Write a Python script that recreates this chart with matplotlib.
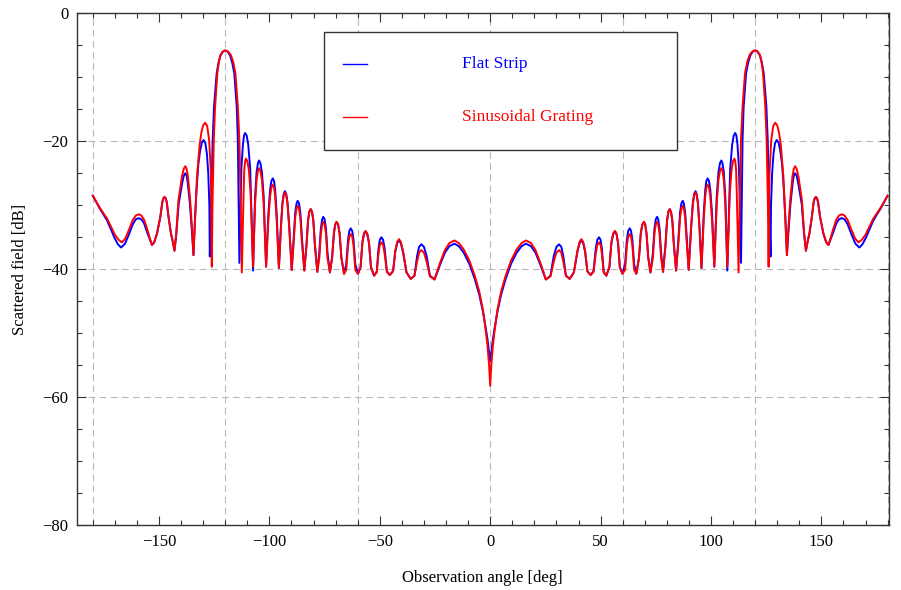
import numpy as np
import matplotlib.pyplot as plt
from matplotlib.patches import Rectangle
from matplotlib.ticker import MultipleLocator

plt.rcParams['font.family'] = ['Liberation Serif', 'DejaVu Serif']

# Right half of the pattern (0..180 deg); the pattern is symmetric
# Central lobe (shared angles)
center_deg = [0, 0.5, 1.2, 2.0, 3.3, 5.0, 7.1, 9.5, 12.0, 14.2, 16.2, 18.5, 20.5, 22.5, 24.0]
center_blue = [-54.4, -53.0, -51.0, -49.2, -46.6, -43.9, -41.4, -39.1, -37.4, -36.4, -36.0, -36.4, -37.4, -39.1, -40.5]
center_red = [-58.2, -55.0, -52.0, -49.6, -46.3, -43.4, -40.9, -38.6, -36.9, -35.9, -35.5, -35.9, -37.0, -38.8, -40.3]

# Side lobes 25..107 deg (shared angles), one row per lobe: null + 7 points
side_deg = [25.2, 27.3, 28.8, 30.0, 31.2, 32.2, 33.1, 34.3,
            36.0, 37.9, 39.5, 40.5, 41.3, 42.1, 43.0, 44.0,
            45.5, 46.8, 47.8, 48.5, 49.3, 50.0, 50.6, 51.4,
            52.6, 54.0, 54.9, 55.7, 56.5, 57.2, 57.9, 58.7,
            59.9, 61.1, 61.9, 62.5, 63.2, 63.8, 64.4, 65.2,
            66.2, 67.4, 68.2, 68.9, 69.6, 70.2, 70.8, 71.6,
            72.6, 73.7, 74.4, 75.0, 75.6, 76.1, 76.7, 77.4,
            78.3, 79.4, 80.1, 80.7, 81.3, 81.9, 82.5, 83.2,
            84.2, 85.3, 86.0, 86.6, 87.2, 87.7, 88.3, 89.0,
            89.9, 91.0, 91.8, 92.4, 93.0, 93.5, 94.1, 94.8,
            95.7, 96.7, 97.4, 97.9, 98.5, 99.1, 99.7, 100.5,
            101.5, 102.6, 103.4, 104.1, 104.7, 105.2, 105.8, 106.5,
            107.4]
side_blue = [-41.6, -41.0, -37.9, -36.5, -36.1, -36.5, -37.9, -41.0,
             -41.5, -40.5, -37.3, -35.9, -35.5, -35.9, -37.3, -40.3,
             -40.9, -40.3, -36.8, -35.4, -35.0, -35.4, -36.8, -40.4,
             -41.0, -39.7, -35.9, -34.5, -34.1, -34.5, -35.9, -39.7,
             -40.7, -39.2, -35.4, -34.0, -33.6, -34.0, -35.4, -39.2,
             -40.7, -38.2, -34.4, -33.0, -32.6, -33.0, -34.4, -38.2,
             -40.5, -37.4, -33.6, -32.2, -31.8, -32.2, -33.6, -37.4,
             -40.4, -36.2, -32.4, -31.0, -30.6, -31.0, -32.4, -36.2,
             -40.2, -34.9, -31.1, -29.7, -29.3, -29.7, -31.1, -34.9,
             -40.1, -33.4, -29.6, -28.2, -27.8, -28.2, -29.6, -33.4,
             -39.8, -31.4, -27.6, -26.2, -25.8, -26.2, -27.6, -31.4,
             -39.6, -28.6, -24.8, -23.4, -23.0, -23.4, -24.8, -28.6,
             -40.2]
side_red = [-41.6, -41.1, -38.8, -37.4, -37.0, -37.4, -38.8, -41.0,
            -41.5, -40.5, -37.1, -35.7, -35.3, -35.7, -37.1, -40.3,
            -40.9, -40.4, -37.6, -36.2, -35.8, -36.2, -37.6, -40.5,
            -41.0, -39.6, -35.8, -34.4, -34.0, -34.4, -35.8, -39.6,
            -40.7, -40.1, -36.3, -34.9, -34.5, -34.9, -36.3, -40.1,
            -40.7, -38.2, -34.4, -33.0, -32.6, -33.0, -34.4, -38.2,
            -40.5, -38.2, -34.4, -33.0, -32.6, -33.0, -34.4, -38.2,
            -40.4, -36.2, -32.4, -31.0, -30.6, -31.0, -32.4, -36.2,
            -40.2, -35.7, -31.9, -30.5, -30.1, -30.5, -31.9, -35.7,
            -40.1, -33.6, -29.8, -28.4, -28.0, -28.4, -29.8, -33.6,
            -39.8, -32.4, -28.6, -27.2, -26.8, -27.2, -28.6, -32.4,
            -39.6, -29.8, -26.0, -24.6, -24.2, -24.6, -26.0, -29.8,
            -39.6]

# Around the grating lobe at 120 deg and out to 180 deg
near_blue_deg = [108.7, 109.6, 110.3, 111.0, 111.5, 112.0, 112.7,
                 113.6, 113.9, 114.3, 114.8, 115.9, 116.8, 117.8, 118.9, 120.0,
                 121.1, 122.2, 123.1, 123.9, 125.1, 125.7, 126.4, 127.0,
                 127.2, 127.7, 128.3, 129.0, 129.8, 130.6, 131.4, 132.2, 133.0, 133.7,
                 134.4, 135.0, 136.0, 137.0, 137.5, 138.1, 138.8, 139.5, 141.1, 142.2,
                 143.0, 143.7, 144.6, 145.7, 146.5, 147.0, 147.5, 148.0, 148.5, 149.4, 150.9, 152.2,
                 153.2, 154.3, 155.3, 156.8, 158.0, 159.2, 160.5, 161.8, 163.7, 165.4,
                 167.2, 168.6, 170.0, 173.5, 177.0, 180.0]
near_blue_db = [-24.3, -20.5, -19.1, -18.7, -19.1, -20.5, -24.3,
                -39.0, -30.2, -19.8, -14.6, -9.4, -7.8, -6.6, -6.0, -5.8,
                -6.0, -6.6, -7.8, -9.4, -14.6, -19.8, -30.2, -38.0,
                -30.0, -25.0, -22.0, -20.3, -19.8, -20.2, -21.5, -23.6, -27.5, -32.0,
                -37.8, -34.6, -29.8, -26.5, -25.4, -25.0, -25.4, -26.5, -29.8, -34.6,
                -37.1, -35.8, -34.4, -31.8, -29.5, -28.9, -28.7, -28.9, -29.5, -31.8, -34.4, -35.8,
                -36.2, -35.2, -34.3, -32.8, -32.2, -32.0, -32.2, -32.9, -34.6, -36.0,
                -36.6, -36.1, -35.2, -32.4, -30.4, -28.5]
near_red_deg = [108.5, 109.3, 110.0, 110.6, 111.0, 111.4, 111.7,
                112.5, 113.0, 113.6, 114.3, 115.4, 116.4, 117.5, 118.8, 120.0,
                121.1, 122.1, 122.9, 123.6, 124.6, 125.2, 125.8, 126.1,
                126.5, 127.3, 128.2, 129.1, 130.0, 130.8, 131.6, 132.8, 133.6,
                134.4, 134.9, 135.9, 136.9, 137.5, 138.1, 138.8, 139.6, 141.2, 142.2,
                143.0, 143.7, 144.6, 145.7, 146.5, 147.0, 147.5, 148.0, 148.5, 149.4, 150.9, 152.2,
                153.2, 154.3, 155.2, 156.7, 158.0, 159.2, 160.5, 161.9, 163.7, 165.3,
                166.8, 168.3, 170.0, 173.5, 177.0, 180.0]
near_red_db = [-28.3, -24.5, -23.1, -22.7, -23.1, -24.5, -28.3,
               -40.5, -30.2, -19.8, -14.6, -9.4, -7.6, -6.5, -5.95, -5.8,
               -5.95, -6.5, -7.6, -9.4, -14.6, -19.8, -30.2, -39.6,
               -25.0, -19.8, -17.6, -17.1, -17.5, -18.6, -20.5, -25.5, -31.5,
               -37.8, -34.4, -29.2, -25.5, -24.3, -23.9, -24.3, -25.5, -29.2, -34.4,
               -37.1, -35.8, -34.4, -31.8, -29.5, -28.9, -28.7, -28.9, -29.5, -31.8, -34.4, -35.8,
               -36.2, -35.0, -33.9, -32.3, -31.6, -31.4, -31.6, -32.3, -33.9, -35.2,
               -35.8, -35.4, -34.6, -32.1, -30.3, -28.5]

grid_x = [-180, -120, -60, 0, 60, 120, 180]
grid_y = [-20, -40, -60]
labels = ['Flat Strip', 'Sinusoidal Grating']
colors = ['#0000ff', '#ff0000']


def mirror(deg, val):
    deg = np.asarray(deg, float)
    val = np.asarray(val, float)
    return (np.concatenate([-deg[::-1], deg[1:]]),
            np.concatenate([val[::-1], val[1:]]))


blue_x, blue_y = mirror(center_deg + side_deg + near_blue_deg,
                        center_blue + side_blue + near_blue_db)
red_x, red_y = mirror(center_deg + side_deg + near_red_deg,
                      center_red + side_red + near_red_db)

fig = plt.figure(figsize=(9.01, 5.90), dpi=100)
ax = fig.add_axes([0.0851, 0.1097, 0.9015, 0.8678])

for gx in grid_x:
    ax.axvline(gx, color='#b8b8b8', lw=0.8, dashes=(6, 4), zorder=1)
for gy in grid_y:
    ax.axhline(gy, color='#b8b8b8', lw=0.8, dashes=(6, 4), zorder=1)

ax.plot(blue_x, blue_y, color=colors[0], lw=1.4, zorder=3)
ax.plot(red_x, red_y, color=colors[1], lw=1.4, zorder=4)

ax.set_xlim(-187.3, 180.6)
ax.set_ylim(-80, 0)
ax.xaxis.set_major_locator(MultipleLocator(50))
ax.xaxis.set_minor_locator(MultipleLocator(10))
ax.yaxis.set_major_locator(MultipleLocator(20))
ax.yaxis.set_minor_locator(MultipleLocator(5))
ax.tick_params(which='both', direction='in', top=True, right=True,
               labelsize=12, color='#333333', width=0.8)
ax.tick_params(which='major', length=6.5, pad=6)
ax.tick_params(which='minor', length=3.6)
for s in ax.spines.values():
    s.set_color('#333333')
    s.set_linewidth(1.0)

ax.set_xlabel('Observation angle [deg]', fontsize=12, labelpad=15)
ax.set_ylabel('Scattered field [dB]', fontsize=12, labelpad=10)

# legend box drawn by hand to match the wide layout
ax.add_patch(Rectangle((0.3048, 0.733), 0.4346, 0.2299, transform=ax.transAxes,
                       facecolor='white', edgecolor='#333333', lw=1.0, zorder=6))
for i, (lab, c) in enumerate(zip(labels, colors)):
    yy = 0.9004 - i * 0.1035
    ax.plot([0.3282, 0.3577], [yy, yy], transform=ax.transAxes, color=c,
            lw=1.0, zorder=7)
    ax.text(0.4743, yy, lab, transform=ax.transAxes, color=c, fontsize=12.5,
            va='center', ha='left', zorder=7)

fig.savefig('out.png', dpi=100)
